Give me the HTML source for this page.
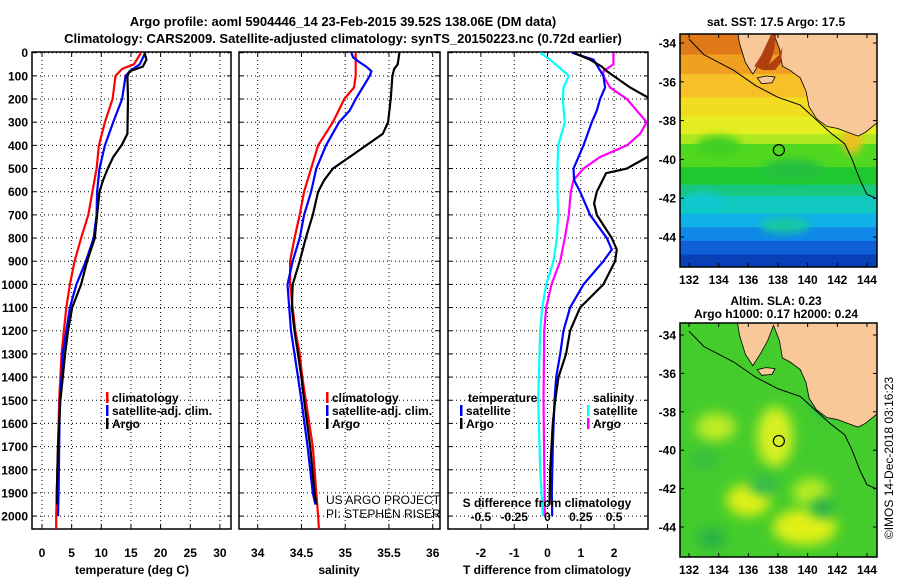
<!DOCTYPE html>
<html><head><meta charset="utf-8"><style>
body{margin:0;background:#fff;}
svg{display:block;font-family:"Liberation Sans",sans-serif;font-weight:bold;}
</style></head><body>
<svg id="fig" width="900" height="580" viewBox="0 0 900 580">
<text x="343" y="26" font-size="13" text-anchor="middle">Argo profile: aoml 5904446_14 23-Feb-2015 39.52S 138.06E (DM data)</text>
<text x="343" y="43" font-size="13" text-anchor="middle">Climatology: CARS2009. Satellite-adjusted climatology: synTS_20150223.nc (0.72d earlier)</text>
<g id="plots"></g>
<g id="maps"></g>
</svg>
<script>
// ---- data ----
const depthTicks=[0,100,200,300,400,500,600,700,800,900,1000,1100,1200,1300,1400,1500,1600,1700,1800,1900,2000];
const tTicks=[0,5,10,15,20,25,30];
const sTicks=[34,34.5,35,35.5,36];
const dTTicks=[-2,-1,0,1,2];
const dSTicks=[-0.5,-0.25,0,0.25,0.5];
const dSTickLabels=['-0.5','-0.25','0','0.25','0.5'];
const tempClimD=[0,50,70,100,200,300,400,500,600,700,800,900,1000,1100,1200,1300,1400,1500,1600,1800,2000,2060];
const tempClim=[16.7,15.5,13.5,12.4,11.9,10.6,9.6,9.2,8.5,7.8,6.6,5.5,4.7,4.1,3.7,3.3,3.1,2.9,2.8,2.6,2.4,2.4];
const tempSatD=[0,50,80,100,200,300,400,500,600,700,800,900,1000,1100,1200,1300,1400,1500,1700,1900,2000];
const tempSat=[17.4,16.5,14.8,14.1,13.5,12.0,10.6,9.7,9.3,9.2,8.7,7.4,5.8,4.7,4.1,3.5,3.3,3.0,2.9,2.8,2.7];
const tempArgoD=[0,30,60,80,100,200,350,400,450,500,550,600,700,800,900,1000,1100,1200,1300,1400,1500,1700,1900,1950];
const tempArgo=[17.3,17.6,17.0,14.8,14.4,14.5,14.4,13.4,12.0,11.1,10.3,9.7,9.3,8.9,7.6,6.6,5.1,4.4,3.9,3.5,3.1,2.7,2.5,2.5];
const salClimD=[0,100,150,200,300,400,500,600,700,800,900,1000,1100,1200,1300,1400,1500,1600,1700,1800,1900,2000,2060];
const salClim=[35.12,35.12,35.1,34.99,34.86,34.69,34.61,34.53,34.48,34.42,34.37,34.37,34.40,34.43,34.48,34.51,34.55,34.59,34.63,34.65,34.67,34.69,34.70];
const salSatD=[0,20,40,60,80,100,150,200,250,300,400,500,600,700,800,900,1000,1100,1200,1300,1400,1500,1700,1900,1950];
const salSat=[35.07,35.09,35.16,35.24,35.30,35.28,35.2,35.12,35.05,34.93,34.78,34.67,34.61,34.53,34.48,34.40,34.34,34.36,34.38,34.42,34.46,34.50,34.57,34.63,34.66];
const salArgoD=[0,50,70,100,200,300,350,400,450,500,550,600,700,800,900,1000,1100,1200,1300,1400,1500,1700,1900,1950];
const salArgo=[35.62,35.60,35.56,35.54,35.52,35.49,35.43,35.24,35.05,34.86,34.76,34.69,34.63,34.55,34.48,34.40,34.39,34.42,34.46,34.50,34.53,34.60,34.65,34.67];
const dTSatD=[0,30,100,150,200,250,300,400,500,550,600,700,800,850,900,1000,1100,1200,1300,1400,1500,1700,1900,2000];
const dTSat=[0.73,1.38,1.68,1.73,1.58,1.48,1.33,1.08,0.78,0.80,0.98,1.28,1.78,1.93,1.68,1.08,0.68,0.48,0.38,0.26,0.21,0.16,0.13,0.14];
const dTArgoD=[0,30,60,80,150,200,300,400,450,500,520,600,650,700,800,850,900,1000,1100,1200,1300,1400,1500,1600,1800,1950];
const dTArgo=[0.78,1.28,1.63,1.78,2.48,3.1,3.5,3.4,3.0,2.38,1.76,1.48,1.40,1.48,1.93,2.08,2.03,1.68,0.98,0.68,0.56,0.33,0.23,0.16,0.08,0.06];
const dSSatD=[0,30,80,100,150,200,300,400,500,600,700,800,900,1000,1100,1200,1500,1800,2000];
const dSSat=[-0.055,0.02,0.12,0.16,0.12,0.115,0.13,0.08,0.075,0.075,0.08,0.07,0.045,-0.01,-0.04,-0.055,-0.07,-0.055,-0.035];
const dSArgoD=[0,50,70,80,100,150,200,300,350,400,450,500,550,600,700,800,900,1000,1100,1200,1500,2000];
const dSArgo=[0.495,0.495,0.445,0.42,0.42,0.47,0.595,0.745,0.695,0.595,0.395,0.27,0.195,0.175,0.16,0.13,0.095,0.03,-0.01,-0.025,-0.03,-0.02];
const lonTicks=[132,134,136,138,140,142,144];
const latTicks=[-34,-36,-38,-40,-42,-44];
const argoLon=138.06, argoLat=-39.52;

// ---- helpers ----
const NS='http://www.w3.org/2000/svg';
function mk(tag,attrs,parent){const e=document.createElementNS(NS,tag);for(const k in attrs)e.setAttribute(k,attrs[k]);parent.appendChild(e);return e;}
const Y0=52.7, PY=0.2317, TOP=52, BOT=529;
const yD=d=>Y0+d*PY;
const plots=document.getElementById('plots');
const panels=[
 {name:'temperature',x0:32,x1:231,v0:0,px:5.93,ref:42},
 {name:'salinity',x0:239,x1:440,v0:34,px:87.5,ref:257.7},
 {name:'difference',x0:448,x1:648,v0:0,px:33.3,ref:547.5}
];
panels.forEach((p,i)=>{
 p.fx=v=>p.ref+(v-p.v0)*p.px;
 const g=mk('g',{},plots);
 
 
 const cp=mk('clipPath',{id:'clip'+i},g);
 mk('rect',{x:p.x0,y:TOP,width:p.x1-p.x0,height:BOT-TOP},cp);
 p.g=g;
});
panels.forEach((p,i)=>{
 const g=p.g;
 const xt=i==0?tTicks:i==1?sTicks:dTTicks;
 xt.forEach(v=>{const x=p.fx(v);
  const l=mk('line',{x1:x,x2:x,y1:TOP,y2:BOT,stroke:'#000','stroke-width':1,'stroke-dasharray':'1,3'},g);
  
  mk('line',{x1:x,x2:x,y1:BOT,y2:BOT-4,stroke:'#000'},g);mk('line',{x1:x,x2:x,y1:TOP,y2:TOP+4,stroke:'#000'},g);
  const t=mk('text',{x:x,y:557,'font-size':12,'text-anchor':'middle'},g);t.textContent=String(v);
  
 });
 depthTicks.forEach(d=>{const y=yD(d);
  const l=mk('line',{x1:p.x0,x2:p.x1,y1:y,y2:y,stroke:'#000','stroke-width':1,'stroke-dasharray':'1,3'},g);
  
  mk('line',{x1:p.x0,x2:p.x0+4,y1:y,y2:y,stroke:'#000'},g);mk('line',{x1:p.x1,x2:p.x1-4,y1:y,y2:y,stroke:'#000'},g);
  if(i==0){const t=mk('text',{x:28,y:y+4.5,'font-size':12,'text-anchor':'end'},g);t.textContent=String(d);
   }
 });
 const b=mk('rect',{x:p.x0,y:TOP,width:p.x1-p.x0,height:BOT-TOP,fill:'none',stroke:'#000','stroke-width':1.5},g);
 
});
function line(p,i,vals,ds,color,name,fx){
 const pts=vals.map((v,k)=>(fx||p.fx)(v).toFixed(1)+','+yD(ds[k]).toFixed(1)).join(' ');
 const pl=mk('polyline',{points:pts,fill:'none',stroke:color,'stroke-width':2.2,'clip-path':'url(#clip'+i+')'},p.g);
 
}
const P=panels;
line(P[0],0,tempClim,tempClimD,'#f00','temp-climatology-line');
line(P[0],0,tempSat,tempSatD,'#00f','temp-satellite-line');
line(P[0],0,tempArgo,tempArgoD,'#000','temp-argo-line');
line(P[1],1,salClim,salClimD,'#f00','sal-climatology-line');
line(P[1],1,salSat,salSatD,'#00f','sal-satellite-line');
line(P[1],1,salArgo,salArgoD,'#000','sal-argo-line');
const fS=v=>P[2].ref+v*4*P[2].px;
line(P[2],2,dSSat,dSSatD,'#0ff','dsal-satellite-line',fS);
line(P[2],2,dSArgo,dSArgoD,'#f0f','dsal-argo-line',fS);
line(P[2],2,dTSat,dTSatD,'#00f','dtemp-satellite-line');
line(P[2],2,dTArgo,dTArgoD,'#000','dtemp-argo-line');
dSTicks.forEach((v,k)=>{const t=mk('text',{x:fS(v),y:521,'font-size':12,'text-anchor':'middle'},P[2].g);t.textContent=dSTickLabels[k];
 });
function txt(x,y,s,str,name,anchor,weight,g){const t=mk('text',{x:x,y:y,'font-size':s,'text-anchor':anchor||'start'},g||plots);if(weight)t.setAttribute('font-weight',weight);t.textContent=str;return t;}
txt(547,507,12,'S difference from climatology','sdiff-axis-title','middle');
txt(132,574,12,'temperature (deg C)','temp-axis-title','middle');
txt(339,574,12,'salinity','sal-axis-title','middle');
txt(547,574,12,'T difference from climatology','tdiff-axis-title','middle');
function leg(x,y,color,label,name){const g=mk('g',{},plots);
 mk('rect',{x:x,y:y-10,width:2.5,height:11,fill:color},g);txt(x+6,y,12,label,name+'-label','start',null,g);}
leg(106,402,'#f00','climatology','legend-climatology');
leg(106,415,'#00f','satellite-adj. clim.','legend-satellite');
leg(106,428,'#000','Argo','legend-argo');
leg(326,402,'#f00','climatology','legend2-climatology');
leg(326,415,'#00f','satellite-adj. clim.','legend2-satellite');
leg(326,428,'#000','Argo','legend2-argo');
txt(468,402,12,'temperature','legend3-temperature-header');
leg(460,415,'#00f','satellite','legend3-t-satellite');
leg(460,428,'#000','Argo','legend3-t-argo');
txt(593,402,12,'salinity','legend3-salinity-header');
leg(587,415,'#0ff','satellite','legend3-s-satellite');
leg(587,428,'#f0f','Argo','legend3-s-argo');
txt(326,504,12,'US ARGO PROJECT','credit-project','start','normal');
txt(326,518,12,'PI: STEPHEN RISER','credit-pi','start','normal');

// ---- maps ----
const maps=document.getElementById('maps');
function drawMap(y0,y1,latRef,latPx,kind){
 const x0=680,x1=877;
 const fx=l=>689+(l-132)*14.83, fy=l=>latRef+(-34-l)*latPx;
 const g=mk('g',{},maps);
 const cid='mclip'+kind;
 const cp=mk('clipPath',{id:cid},g);mk('rect',{x:x0,y:y0,width:x1-x0,height:y1-y0},cp);
 const c=mk('g',{'clip-path':'url(#'+cid+')'},g);
 const f=mk('filter',{id:'blur'+kind,x:'-50%',y:'-50%',width:'200%',height:'200%'},g);mk('feGaussianBlur',{stdDeviation:kind=='sst'?4:6},f);
 if(kind=='sst'){
  const bands=[[-33,'#e07a18'],[-34.6,'#f0a020'],[-35.6,'#f8c028'],[-36.8,'#f2dc20'],[-37.8,'#e4ee20'],[-38.7,'#b0e820'],[-39.2,'#50d820'],[-40.4,'#20c830'],[-41.3,'#18c880'],[-41.9,'#10c8c0'],[-42.8,'#10b0e8'],[-43.5,'#1088e8'],[-44.2,'#1060d8'],[-44.9,'#0840b8']];
  bands.forEach((b,k)=>{const ya=fy(b[0]),yb=k<bands.length-1?fy(bands[k+1][0]):y1+5;mk('rect',{x:x0,y:ya,width:x1-x0,height:yb-ya+1,fill:b[1]},c);});
  const sblobs=[[134,-39.3,'#40d020',22,10],[139,-40.5,'#28c040',30,10],[133,-42.2,'#10c8d0',20,10],[138.5,-43.4,'#18c8a0',25,8],[143,-39,'#f0c020',10,14]];
  sblobs.forEach(b=>mk('ellipse',{cx:fx(b[0]),cy:fy(b[1]),rx:b[3],ry:b[4],fill:b[2],filter:'url(#blursst)'},c));
 }else{
  mk('rect',{x:x0,y:y0,width:x1-x0,height:y1-y0,fill:'#44cc2c'},c);
  const blobs=[[137.8,-39.3,'#d8f020',18,30],[133.8,-38.8,'#c0ec28',20,14],[136,-42.6,'#e0f018',22,16],[139.8,-44,'#e0f018',32,18],[140.2,-42.2,'#b8ec20',18,14],[133.5,-44.6,'#28b048',14,10],[141,-43,'#28b050',12,10],[137,-41.8,'#30b850',14,10],[133,-40.5,'#38c040',16,10],[141.5,-37.5,'#28b850',20,14]];
  blobs.forEach(b=>mk('ellipse',{cx:fx(b[0]),cy:fy(b[1]),rx:b[3],ry:b[4],fill:b[2],filter:'url(#blursla)'},c));
 }
 const land=[[135.2,-33],[135.4,-34],[135.8,-35],[136.3,-35.6],[136.8,-35],[137.3,-34.3],[137.7,-33.5],[138.1,-34.3],[138.3,-35.2],[138.8,-35.4],[139.5,-35.8],[139.9,-36.5],[140.1,-37.3],[140.6,-37.9],[141.3,-38.3],[142,-38.4],[142.7,-38.6],[143.4,-38.8],[143.9,-38.6],[144.7,-38.1],[145,-33]];
 mk('polygon',{points:land.map(q=>fx(q[0])+','+fy(q[1])).join(' '),fill:'#f8c898',stroke:'#000','stroke-width':0.8},c);
 const island=[[136.6,-35.8],[137.2,-35.7],[137.8,-35.75],[137.6,-36.05],[136.9,-36.1]];
 mk('polygon',{points:island.map(q=>fx(q[0])+','+fy(q[1])).join(' '),fill:'#f8c898',stroke:'#000','stroke-width':0.8},c);
 if(kind=='sst'){
  const gulf=[[136.4,-35.2],[136.9,-34.6],[137.5,-33.6],[137.9,-33.5],[137.7,-34.5],[137.4,-35.1],[138.1,-34.6],[138.3,-34.2],[138.2,-35.0],[137.8,-35.4],[137,-35.4]];
  mk('polygon',{points:gulf.map(q=>fx(q[0])+','+fy(q[1])).join(' '),fill:'#b04010'},c);
 }
 const shelf=[[132,-33.8],[133,-34.6],[135,-35.4],[136.5,-36.2],[138,-36.8],[139.5,-37.2],[140.5,-37.9],[141.5,-38.6],[142.5,-39.2],[143,-40],[143.5,-41],[144,-41.8],[144.6,-42]];
 const sl=mk('polyline',{points:shelf.map(q=>fx(q[0])+','+fy(q[1])).join(' '),fill:'none',stroke:'#000','stroke-width':1},c);
 
 const dot=mk('circle',{cx:fx(argoLon),cy:fy(argoLat),r:5.5,fill:'none',stroke:'#000','stroke-width':1.2},g);
 
 mk('rect',{x:x0,y:y0,width:x1-x0,height:y1-y0,fill:'none',stroke:'#000','stroke-width':1.5},g);
 lonTicks.forEach(l=>{const x=fx(l);mk('line',{x1:x,x2:x,y1:y1,y2:y1-4,stroke:'#000'},g);mk('line',{x1:x,x2:x,y1:y0,y2:y0+4,stroke:'#000'},g);
  txt(x,y1+17,12,String(l),'lon-tick-label','middle',null,g);});
 latTicks.forEach(l=>{const y=fy(l);mk('line',{x1:x0,x2:x0+4,y1:y,y2:y,stroke:'#000'},g);mk('line',{x1:x1,x2:x1-4,y1:y,y2:y,stroke:'#000'},g);
  txt(x0-4,y+4.5,12,String(l),'lat-tick-label','end',null,g);});
}
drawMap(34,267,43,19.4,'sst');
drawMap(323,557,335,19.2,'sla');
txt(776,26,12,'sat. SST: 17.5 Argo: 17.5','sst-map-title','middle');
txt(776,305,12,'Altim. SLA: 0.23','sla-map-title','middle');
txt(776,318,12,'Argo h1000: 0.17 h2000: 0.24','sla-map-subtitle','middle');
const ts=txt(0,0,12,'©IMOS 14-Dec-2018 03:16:23','timestamp','middle','normal');
ts.setAttribute('transform','translate(893,458) rotate(-90)');
</script>
</body></html>
